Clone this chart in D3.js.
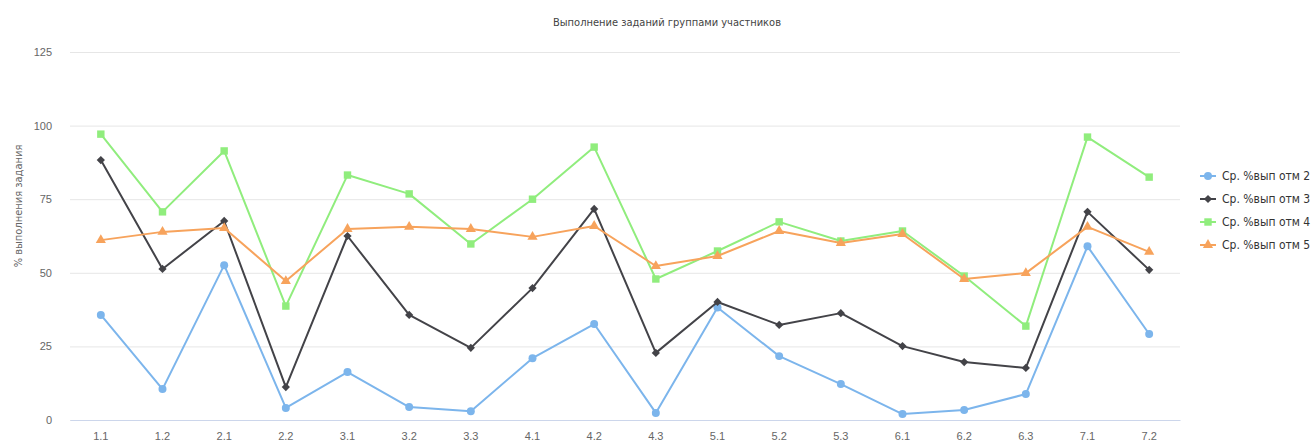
<!DOCTYPE html>
<html><head><meta charset="utf-8">
<script src="https://cdn.jsdelivr.net/npm/d3@7"></script>
<style>
body{margin:0;background:#fff;}
svg{display:block;font-family:"DejaVu Sans Condensed","DejaVu Sans",sans-serif;}
</style></head>
<body><svg id="c" width="1316" height="448"></svg>
<script>
const categories = ["1.1","1.2","2.1","2.2","3.1","3.2","3.3","4.1","4.2","4.3","5.1","5.2","5.3","6.1","6.2","6.3","7.1","7.2"];
const seriesNames = ["Ср. %вып отм 2","Ср. %вып отм 3","Ср. %вып отм 4","Ср. %вып отм 5"];
const otm2 = [35.7,10.5,52.6,4.1,16.3,4.4,3.0,21.0,32.6,2.4,38.2,21.7,12.2,2.0,3.4,8.8,59.0,29.2];
const otm3 = [88.3,51.3,67.6,11.2,62.5,35.7,24.5,44.8,71.7,22.8,40.1,32.3,36.3,25.1,19.7,17.7,70.7,51.0];
const otm4 = [97.1,70.7,91.4,38.7,83.2,76.8,59.8,75.0,92.7,47.9,57.4,67.3,60.8,64.2,48.9,31.9,96.1,82.5];
const otm5 = [61.1,63.9,65.2,47.2,64.9,65.6,64.9,62.2,65.9,52.3,55.7,64.2,60.1,63.2,47.9,49.9,65.6,57.1];
const yTicks = [0,25,50,75,100,125];
const title = "Выполнение заданий группами участников";
const yTitle = "% выполнения задания";

(function(){
const colors = ["#7cb5ec","#434348","#90ed7d","#f7a35c"];
const symbols = [d3.symbolCircle, d3.symbolSquare, d3.symbolSquare, d3.symbolTriangle];
const rotations = [0, 45, 0, 0];
const symSizes = [50, 34, 55, 45];
const allSeries = [otm2, otm3, otm4, otm5];

const svg = d3.select("#c");
const mLeft = 70, mRight = 1180, mTop = 52, mBottom = 420;

const x = d3.scaleBand().domain(categories).range([mLeft, mRight]).padding(0);
const y = d3.scaleLinear().domain([0,125]).range([mBottom, mTop]);

svg.append("text").attr("x", 667).attr("y", 26).attr("text-anchor","middle")
  .attr("font-size", 11).attr("fill","#444").text(title);

const yAxis = d3.axisLeft(y).tickValues(yTicks).tickSize(-(mRight-mLeft)).tickPadding(18);
const gy = svg.append("g").attr("transform", `translate(${mLeft},0)`).call(yAxis);
gy.select(".domain").remove();
gy.selectAll(".tick line").attr("stroke","#e6e6e6");
gy.selectAll(".tick text").attr("fill","#666").attr("font-size", 11);

const xAxis = d3.axisBottom(x).tickSize(0).tickPadding(12);
const gx = svg.append("g").attr("transform", `translate(0,${mBottom})`).call(xAxis);
gx.select(".domain").attr("stroke","#ccd6eb");
gx.selectAll(".tick text").attr("fill","#666").attr("font-size", 11);

svg.append("text").attr("transform", `translate(22,${(mTop+mBottom)/2 - 30}) rotate(-90)`)
  .attr("text-anchor","middle").attr("font-size", 11).attr("fill","#666").text(yTitle);

const line = d3.line().x((d,i)=>x(categories[i]) + x.bandwidth()/2).y(d=>y(d));

allSeries.forEach((data, si) => {
  const g = svg.append("g");
  g.append("path").datum(data).attr("d", line).attr("fill","none")
    .attr("stroke", colors[si]).attr("stroke-width", 2).attr("stroke-linejoin","round");
  g.selectAll("path.m").data(data).join("path").attr("class","m")
    .attr("transform", (d,i)=>`translate(${x(categories[i]) + x.bandwidth()/2},${y(d)}) rotate(${rotations[si]})`)
    .attr("d", d3.symbol().type(symbols[si]).size(symSizes[si]))
    .attr("fill", colors[si]);
});

const leg = svg.append("g").attr("transform","translate(1200,176)");
seriesNames.forEach((name, i) => {
  const g = leg.append("g").attr("transform", `translate(0,${i*23})`);
  g.append("line").attr("x1",0).attr("x2",16).attr("y1",0).attr("y2",0)
    .attr("stroke", colors[i]).attr("stroke-width", 2);
  g.append("path").attr("transform",`translate(8,0) rotate(${rotations[i]})`)
    .attr("d", d3.symbol().type(symbols[i]).size(symSizes[i])).attr("fill", colors[i]);
  g.append("text").attr("x", 22).attr("y", 4).attr("font-size", 12).attr("fill","#333").text(name);
});
})();
</script></body></html>
